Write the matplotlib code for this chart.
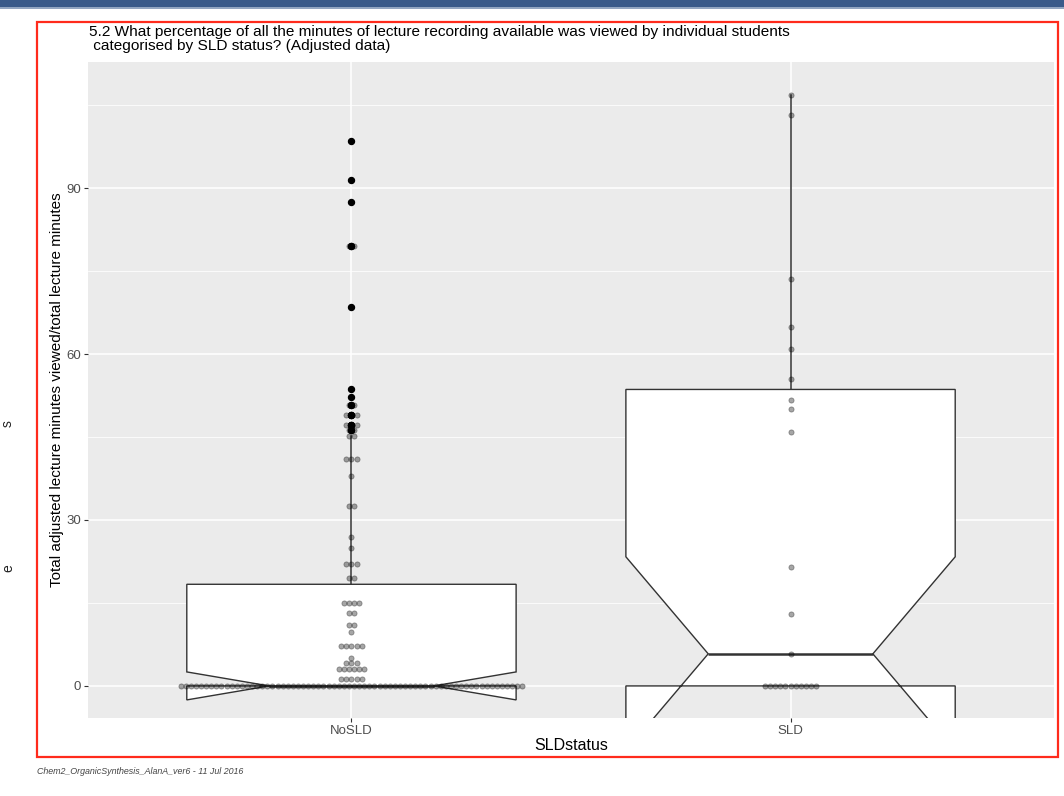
import numpy as np
import matplotlib
matplotlib.use("Agg")
import matplotlib.pyplot as plt
from matplotlib.patches import Rectangle

plt.rcParams['font.family'] = ['Liberation Sans', 'DejaVu Sans']

# percentage of recording minutes viewed, one entry per distinct value with its student count
nosld_values = [0, 1.3, 3.1, 4.2, 5.0, 7.2, 9.8, 11, 13.2, 15, 19.5, 22, 25, 27, 32.6, 38, 41,
                45.1, 46.3, 47.2, 49, 50.7, 52.3, 53.6, 68.5, 79.5, 87.5, 91.5, 98.5]
nosld_counts = [68, 5, 6, 3, 1, 5, 1, 2, 2, 4, 2, 3, 1, 1, 2, 1, 3,
                2, 2, 3, 3, 2, 1, 1, 1, 2, 1, 1, 1]
sld_values = [0, 5.8, 13, 21.5, 45.9, 50.1, 51.7, 55.5, 60.9, 64.9, 73.6, 103.2, 106.8]
sld_counts = [11, 1, 1, 1, 1, 1, 1, 1, 1, 1, 1, 1, 1]

groups = ['NoSLD', 'SLD']
yticks = [0, 30, 60, 90]

title = ("5.2 What percentage of all the minutes of lecture recording available was viewed by individual students\n"
         " categorised by SLD status? (Adjusted data)")
footer = "Chem2_OrganicSynthesis_AlanA_ver6 - 11 Jul 2016"

W, H = 1064, 796
fig = plt.figure(figsize=(W / 100, H / 100), dpi=100)
fig.patch.set_facecolor('white')

def px(x, y):
    return x / W, 1 - y / H

# panel
x0, x1, y0, y1 = 88, 1054, 62, 718
ax = fig.add_axes([x0 / W, 1 - y1 / H, (x1 - x0) / W, (y1 - y0) / H])
ax.set_facecolor('#EBEBEB')
for s in ax.spines.values():
    s.set_visible(False)

data = [np.repeat(nosld_values, nosld_counts), np.repeat(sld_values, sld_counts)]
pos = [1, 2]

ax.boxplot(data, positions=pos, widths=0.75, notch=True, whis=1.5,
           patch_artist=True, showcaps=False, zorder=2,
           boxprops=dict(facecolor='white', edgecolor='#333333', linewidth=1.0),
           medianprops=dict(color='#333333', linewidth=1.8),
           whiskerprops=dict(color='#333333', linewidth=1.1),
           flierprops=dict(marker='o', markerfacecolor='black', markeredgecolor='black',
                           markersize=4.3, linestyle='none'))

# centred dot stacks
xspan = 2.2
dot_px = 5.1
dx = dot_px * xspan / (x1 - x0)
for p, vals, cnts in zip(pos, [nosld_values, sld_values], [nosld_counts, sld_counts]):
    xs, ys = [], []
    for v, k in zip(vals, cnts):
        for j in range(k):
            xs.append(p + (j - (k - 1) / 2) * dx)
            ys.append(v)
    ax.scatter(xs, ys, s=14, color='black', alpha=0.35, linewidths=0.6, zorder=3)

ax.set_xlim(0.4, 2.6)
ax.set_ylim(-5.8, 112.8)
ax.set_yticks(yticks)
ax.set_yticks([15, 45, 75, 105], minor=True)
ax.set_xticks(pos)
ax.set_xticklabels(groups)
ax.grid(which='major', color='white', linewidth=1.1)
ax.grid(which='minor', axis='y', color='white', linewidth=0.55)
ax.set_axisbelow(True)
ax.tick_params(axis='both', which='major', color='#333333', length=3, width=0.8,
               labelsize=9.5, labelcolor='#4D4D4D', pad=2)
ax.tick_params(axis='y', which='minor', length=0)

ax.set_ylabel("Total adjusted lecture minutes viewed/total lecture minutes", fontsize=11,
              color='black', labelpad=2)
ax.set_xlabel("SLDstatus", fontsize=11.5, color='black', labelpad=1)

fig.text(*px(89, 25), title, ha='left', va='top', fontsize=11.1, linespacing=1.0)
fig.text(*px(37, 772), footer, ha='left', va='center', fontsize=6.4, style='italic', color='#444444')

# slide frame: top band and red outline
fig.patches.append(Rectangle(px(0, 7), 1, 7 / H, transform=fig.transFigure,
                             facecolor='#3a5a8a', edgecolor='none'))
fig.patches.append(Rectangle(px(0, 9), 1, 2 / H, transform=fig.transFigure,
                             facecolor='#93a6c2', edgecolor='none'))
fig.patches.append(Rectangle(px(37, 757), (1058 - 37) / W, (757 - 22) / H, transform=fig.transFigure,
                             facecolor='none', edgecolor='#ff2b1c', linewidth=1.6))

# letters of the slide text beside the frame
fig.text(*px(1, 424), 's', ha='left', va='center', fontsize=10, rotation=90, color='#222222')
fig.text(*px(1, 568), 'e', ha='left', va='center', fontsize=10, rotation=90, color='#222222')

fig.savefig('out.png', dpi=100)
